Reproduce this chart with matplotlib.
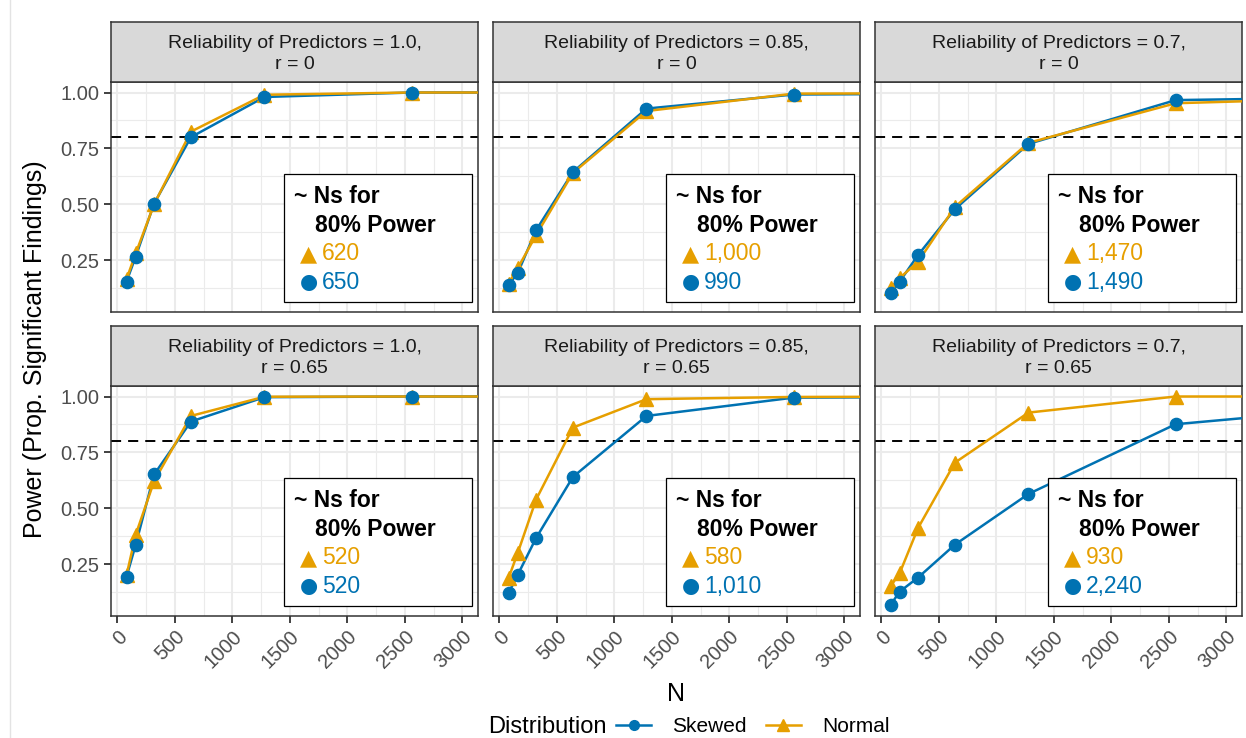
import matplotlib
matplotlib.use("Agg")
import matplotlib.pyplot as plt
from matplotlib.lines import Line2D
from matplotlib.patches import Rectangle

plt.rcParams['font.family'] = ['Liberation Sans', 'DejaVu Sans']

# sample sizes used in the simulation
n_values = [80, 160, 320, 640, 1280, 2560, 5120]

panel_titles = [
    "Reliability of Predictors = 1.0,\nr = 0",
    "Reliability of Predictors = 0.85,\nr = 0",
    "Reliability of Predictors = 0.7,\nr = 0",
    "Reliability of Predictors = 1.0,\nr = 0.65",
    "Reliability of Predictors = 0.85,\nr = 0.65",
    "Reliability of Predictors = 0.7,\nr = 0.65",
]

# proportion of significant findings per panel
power_skewed = [
    [0.154, 0.266, 0.503, 0.800, 0.980, 1.000, 1.000],
    [0.140, 0.192, 0.384, 0.644, 0.928, 0.991, 0.997],
    [0.102, 0.154, 0.273, 0.478, 0.770, 0.966, 0.985],
    [0.194, 0.337, 0.651, 0.888, 0.997, 1.000, 1.000],
    [0.120, 0.202, 0.367, 0.640, 0.913, 0.995, 1.000],
    [0.067, 0.127, 0.190, 0.337, 0.564, 0.876, 0.995],
]
power_normal = [
    [0.165, 0.280, 0.500, 0.825, 0.990, 1.000, 1.000],
    [0.145, 0.214, 0.362, 0.640, 0.917, 0.995, 0.998],
    [0.125, 0.170, 0.243, 0.488, 0.775, 0.952, 0.990],
    [0.200, 0.382, 0.621, 0.913, 0.999, 1.000, 1.000],
    [0.187, 0.300, 0.539, 0.861, 0.988, 0.998, 1.000],
    [0.150, 0.210, 0.412, 0.704, 0.928, 1.000, 1.000],
]

# approximate N needed for 80% power
n80_normal = [620, 1000, 1470, 520, 580, 930]
n80_skewed = [650, 990, 1490, 520, 1010, 2240]

target_power = 0.8

BLUE = '#0072B2'
ORANGE = '#E69F00'
GRID = '#EBEBEB'
DARK = '#333333'

W, H = 1246, 738
fig = plt.figure(figsize=(W / 100, H / 100), dpi=100)


def rect(left, top, width, height):
    return [left / W, 1 - (top + height) / H, width / W, height / H]


col_left = [111, 493, 875]
panel_w = 367
row_top = [82, 386]
panel_h = 229.5
strip_h = 60

# faint border line on the left side
fig.add_artist(Line2D([10 / W, 10 / W], [0, 1], color='#E3E3E3', lw=1))

for i in range(6):
    row, col = divmod(i, 3)
    ax = fig.add_axes(rect(col_left[col], row_top[row], panel_w, panel_h))
    ax.set_xlim(-55, 3137)
    ax.set_ylim(0.02, 1.047)

    ax.set_xticks(range(0, 3001, 500))
    ax.set_xticks(range(250, 3001, 500), minor=True)
    ax.set_yticks([0.25, 0.5, 0.75, 1.0])
    ax.set_yticks([0.125, 0.375, 0.625, 0.875], minor=True)
    ax.grid(True, which='major', color=GRID, lw=1.5, zorder=0)
    ax.grid(True, which='minor', color=GRID, lw=0.8, zorder=0)
    ax.set_axisbelow(True)
    for s in ax.spines.values():
        s.set_color(DARK)
        s.set_linewidth(1.1)

    ax.tick_params(which='minor', length=0)
    ax.tick_params(which='major', length=4.8, width=1.3, color=DARK,
                   labelsize=14.5, labelcolor='#4D4D4D', pad=3.5)
    if col == 0:
        ax.set_yticklabels(['0.25', '0.50', '0.75', '1.00'])
    else:
        ax.tick_params(axis='y', length=0, labelleft=False)
    if row == 1:
        ax.set_xticklabels([str(v) for v in range(0, 3001, 500)],
                           rotation=45, ha='right', rotation_mode='anchor')
    else:
        ax.tick_params(axis='x', length=0, labelbottom=False)

    ax.axhline(target_power, color='black', lw=1.4, dashes=(5.2, 3.6), zorder=2)

    ax.plot(n_values, power_skewed[i], color=BLUE, lw=1.8, zorder=3)
    ax.plot(n_values, power_normal[i], color=ORANGE, lw=1.8, zorder=3)
    ax.plot(n_values, power_normal[i], ls='none', marker='^', ms=10,
            color=ORANGE, zorder=4, clip_on=False)
    ax.plot(n_values, power_skewed[i], ls='none', marker='o', ms=8.8,
            color=BLUE, zorder=4, clip_on=False)

    # box with the sample sizes for 80% power
    ax.add_patch(Rectangle((0.472, 0.042), 0.512, 0.558, transform=ax.transAxes,
                           facecolor='white', edgecolor='black', lw=0.9, zorder=5))
    ax.text(0.500, 0.473, "~ Ns for", transform=ax.transAxes, fontsize=16.5,
            fontweight='bold', va='baseline', zorder=6)
    ax.text(0.556, 0.347, "80% Power", transform=ax.transAxes, fontsize=16.5,
            fontweight='bold', va='baseline', zorder=6)
    ax.text(0.514, 0.225, "\u25B2", transform=ax.transAxes, fontsize=16,
            family='DejaVu Sans', color=ORANGE, va='baseline', zorder=6)
    ax.text(0.575, 0.225, f"{n80_normal[i]:,}", transform=ax.transAxes,
            fontsize=16.5, color=ORANGE, va='baseline', zorder=6)
    ax.text(0.516, 0.101, "\u25CF", transform=ax.transAxes, fontsize=15,
            family='DejaVu Sans', color=BLUE, va='baseline', zorder=6)
    ax.text(0.575, 0.099, f"{n80_skewed[i]:,}", transform=ax.transAxes,
            fontsize=16.5, color=BLUE, va='baseline', zorder=6)

    # facet strip
    sx = fig.add_axes(rect(col_left[col], row_top[row] - strip_h, panel_w, strip_h))
    sx.set_facecolor('#D9D9D9')
    sx.set_xticks([])
    sx.set_yticks([])
    for s in sx.spines.values():
        s.set_color(DARK)
        s.set_linewidth(1.1)
    sx.text(0.5, 0.46, panel_titles[i], transform=sx.transAxes, ha='center',
            va='center', fontsize=14, color='#1A1A1A', linespacing=1.3)

fig.text(35 / W, 1 - 349 / H, "Power (Prop. Significant Findings)", rotation=90,
         ha='center', va='center', fontsize=18)
fig.text(676 / W, 1 - 694 / H, "N", ha='center', va='center', fontsize=18)

fig.text(488 / W, 1 - 727 / H, "Distribution", ha='left', va='center', fontsize=17)
handles = [
    Line2D([], [], color=BLUE, lw=1.8, marker='o', ms=7),
    Line2D([], [], color=ORANGE, lw=1.8, marker='^', ms=8),
]
fig.legend(handles, ["Skewed", "Normal"], ncol=2, loc='center left',
           bbox_to_anchor=(616 / W, 1 - 727 / H), frameon=False, fontsize=15,
           handlelength=1.7, handletextpad=1.0, columnspacing=0.9,
           borderpad=0, borderaxespad=0)

fig.savefig("out.png", dpi=100)
